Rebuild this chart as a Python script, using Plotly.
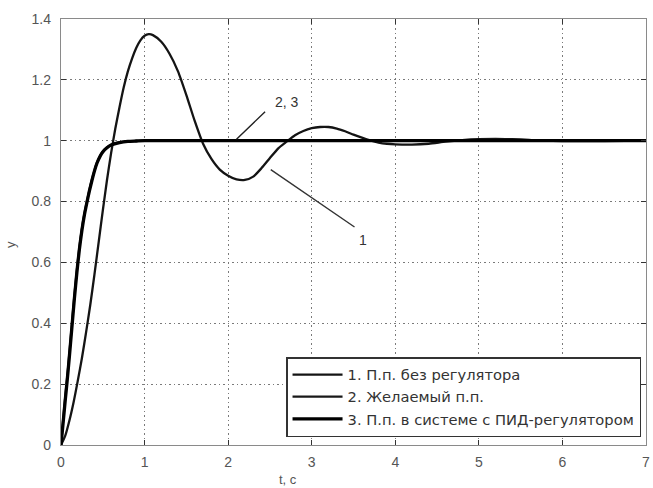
import plotly.graph_objects as go

# Curve 1: transient without regulator
t1 = [0, 0.05, 0.1, 0.15, 0.2, 0.25, 0.3, 0.35, 0.4, 0.45, 0.5, 0.55, 0.6, 0.65, 0.7,
      0.75, 0.8, 0.85, 0.9, 0.95, 1.0, 1.05, 1.1, 1.2, 1.3, 1.4, 1.5, 1.6, 1.7, 1.8,
      1.9, 2.0, 2.1, 2.2, 2.3, 2.4, 2.5, 2.6, 2.7, 2.8, 2.9, 3.0, 3.1, 3.2, 3.3, 3.4,
      3.5, 3.6, 3.7, 3.8, 3.9, 4.0, 4.2, 4.4, 4.6, 4.8, 5.0, 5.2, 5.4, 5.6, 5.8, 6.0,
      6.5, 7.0]
y1 = [0, 0.03, 0.08, 0.14, 0.21, 0.285, 0.37, 0.46, 0.56, 0.665, 0.77, 0.87, 0.96, 1.04, 1.11,
      1.175, 1.228, 1.27, 1.305, 1.33, 1.345, 1.35, 1.347, 1.325, 1.285, 1.228, 1.15, 1.065, 0.99, 0.94,
      0.905, 0.885, 0.873, 0.871, 0.882, 0.91, 0.943, 0.975, 0.997, 1.018, 1.032, 1.041, 1.045, 1.045, 1.04, 1.031,
      1.02, 1.01, 1.001, 0.994, 0.99, 0.988, 0.987, 0.99, 0.997, 1.002, 1.005, 1.006, 1.005, 1.003, 1.0, 0.999,
      0.999, 1.0]

# Curve 2: desired transient
t2 = [0, 0.025, 0.05, 0.075, 0.1, 0.13, 0.16, 0.19, 0.22, 0.25, 0.28, 0.31, 0.34, 0.37,
      0.4, 0.43, 0.47, 0.5, 0.55, 0.6, 0.7, 0.8, 0.9, 1.0, 1.5, 2.0, 3.0, 4.0, 5.0, 6.0, 7.0]
y2 = [0, 0.08, 0.155, 0.225, 0.3, 0.395, 0.49, 0.575, 0.65, 0.71, 0.76, 0.8, 0.838, 0.872,
      0.902, 0.928, 0.952, 0.965, 0.978, 0.987, 0.995, 0.998, 0.999, 1.0, 1.0, 1.0, 1.0, 1.0, 1.0, 1.0, 1.0]

# Curve 3: transient with PID regulator
t3 = [0, 0.025, 0.05, 0.075, 0.1, 0.13, 0.16, 0.19, 0.22, 0.25, 0.28, 0.31, 0.34, 0.37,
      0.4, 0.43, 0.47, 0.5, 0.55, 0.6, 0.7, 0.8, 0.9, 1.0, 1.5, 2.0, 3.0, 4.0, 5.0, 6.0, 7.0]
y3 = [0, 0.072, 0.145, 0.215, 0.29, 0.385, 0.48, 0.567, 0.643, 0.705, 0.756, 0.797, 0.835, 0.869,
      0.9, 0.926, 0.95, 0.963, 0.977, 0.986, 0.994, 0.998, 0.999, 1.0, 1.0, 1.0, 1.0, 1.0, 1.0, 1.0, 1.0]

names = ["1. П.п. без регулятора", "2. Желаемый п.п.", "3. П.п. в системе с ПИД-регулятором"]
x_ticks = [0, 1, 2, 3, 4, 5, 6, 7]
y_ticks = [0, 0.2, 0.4, 0.6, 0.8, 1.0, 1.2, 1.4]
y_tick_text = ["0", "0.2", "0.4", "0.6", "0.8", "1", "1.2", "1.4"]

FONT = "Liberation Sans, Arial, sans-serif"
LFONT = "DejaVu Sans, sans-serif"

fig = go.Figure()
fig.add_trace(go.Scatter(x=t1, y=y1, name=names[0], mode="lines",
                         line=dict(color="#141414", width=2.3, shape="spline", smoothing=0.6)))
fig.add_trace(go.Scatter(x=t2, y=y2, name=names[1], mode="lines",
                         line=dict(color="#181818", width=2.3, shape="spline", smoothing=0.6)))
fig.add_trace(go.Scatter(x=t3, y=y3, name=names[2], mode="lines",
                         line=dict(color="#000000", width=3.3, shape="spline", smoothing=0.6)))

axis_common = dict(
    showline=True, linecolor="#8a8a8a", linewidth=1.3, mirror="ticks",
    ticks="inside", ticklen=5, tickcolor="#333333", tickwidth=1.3,
    showgrid=True, gridcolor="#7a7a7a", griddash="1.5px,3px", gridwidth=1.2,
    zeroline=False,
    tickfont=dict(family=FONT, size=14, color="#555555"),
)

fig.update_xaxes(range=[0, 7], tickvals=x_ticks, ticktext=[str(v) for v in x_ticks],
                 ticklabeloverflow="allow", ticklabelstandoff=4, **axis_common)
fig.update_yaxes(range=[0, 1.4], tickvals=y_ticks, ticktext=y_tick_text,
                 ticklabelstandoff=6, **axis_common)

fig.add_annotation(x=2.7, y=1.127, text="2, 3", showarrow=False,
                   font=dict(family=FONT, size=14, color="#333333"))
fig.add_annotation(x=2.10, y=1.005, ax=2.46, ay=1.10, axref="x", ayref="y", xref="x", yref="y",
                   text="", showarrow=True, arrowhead=0, arrowwidth=1.4, arrowcolor="#222222")
fig.add_annotation(x=3.61, y=0.675, text="1", showarrow=False,
                   font=dict(family=FONT, size=14, color="#333333"))
fig.add_annotation(x=2.51, y=0.905, ax=3.53, ay=0.713, axref="x", ayref="y", xref="x", yref="y",
                   text="", showarrow=True, arrowhead=0, arrowwidth=1.4, arrowcolor="#333333")

fig.add_annotation(x=(290 - 61) / 589, y=-0.08, xref="paper", yref="paper", text="t, c",
                   showarrow=False, font=dict(family=FONT, size=13, color="#555555"),
                   xanchor="center", yanchor="middle")
fig.add_annotation(x=-0.087, y=(445 - 245) / 426, xref="paper", yref="paper", text="y",
                   showarrow=False, textangle=-90, font=dict(family=FONT, size=13, color="#555555"),
                   xanchor="center", yanchor="middle")

fig.update_layout(
    width=653, height=488,
    margin=dict(l=61, r=3, t=19, b=43),
    paper_bgcolor="white", plot_bgcolor="white",
    showlegend=True,
    legend=dict(x=(645 - 61) / 589, y=(445 - 437) / 426, xanchor="right", yanchor="bottom",
                bgcolor="white", bordercolor="#333333", borderwidth=1.5,
                font=dict(family=LFONT, size=14.7, color="#333333"),
                itemwidth=50, tracegroupgap=0),
)

fig.write_html("out.html")
